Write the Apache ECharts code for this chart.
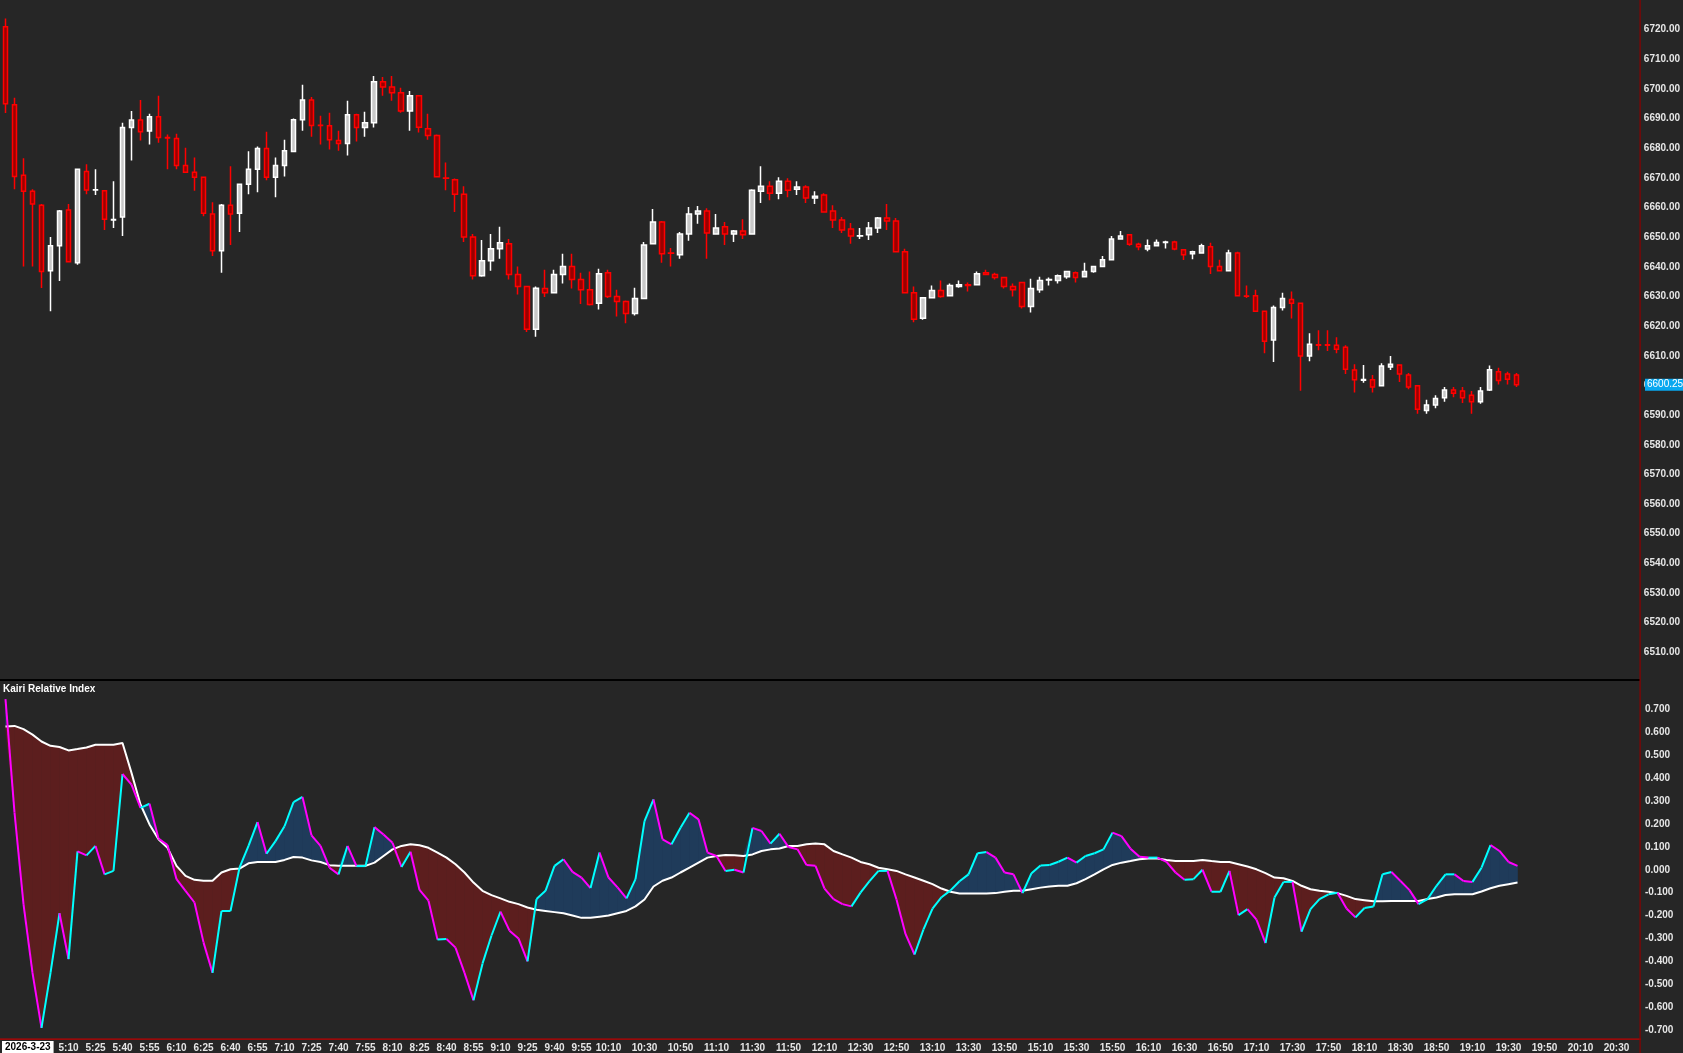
<!DOCTYPE html>
<html>
<head>
<meta charset="utf-8">
<script src="https://cdn.jsdelivr.net/npm/echarts@6/dist/echarts.min.js"></script>
<style>
  html, body { margin: 0; padding: 0; background: #262626; }
  #chart { width: 1683px; height: 1053px; }
</style>
</head>
<body>
<div id="chart"></div>
<script>
// 5-minute bars, [open, high, low, close]
const candles = [
  [6721.0,6723.8,6691.9,6695.0],[6694.7,6697.0,6666.2,6670.5],[6670.9,6676.6,6640.1,6665.5],[6665.5,6666.2,6640.1,6661.2],
  [6660.8,6661.2,6632.9,6638.4],[6638.7,6650.1,6625.0,6647.1],[6647.1,6659.2,6635.2,6658.8],[6659.2,6661.2,6641.7,6641.7],
  [6641.4,6672.9,6640.7,6672.9],[6672.2,6674.6,6664.5,6665.9],[6665.9,6672.9,6664.2,6666.0],[6665.7,6665.7,6652.4,6656.1],
  [6655.8,6668.9,6653.1,6656.0],[6656.8,6688.6,6650.4,6687.0],[6687.0,6692.6,6675.9,6689.5],[6689.5,6696.3,6682.6,6685.6],
  [6685.8,6691.6,6681.3,6690.6],[6690.6,6697.7,6681.9,6683.6],[6683.6,6684.6,6672.9,6683.5],[6683.3,6684.9,6672.9,6674.2],
  [6674.2,6680.2,6671.9,6671.9],[6671.9,6676.9,6665.7,6670.2],[6670.2,6670.2,6657.1,6658.1],[6657.8,6661.8,6643.7,6645.4],
  [6645.4,6661.2,6638.0,6660.8],[6660.8,6673.9,6647.4,6657.8],[6658.1,6667.9,6651.8,6667.9],[6667.9,6679.0,6664.5,6672.9],
  [6672.9,6680.6,6665.2,6679.9],[6679.9,6685.6,6669.2,6670.2],[6670.2,6676.9,6663.5,6674.2],[6674.2,6682.9,6670.5,6679.2],
  [6678.9,6690.0,6678.9,6689.6],[6689.6,6701.4,6685.9,6696.3],[6696.3,6697.3,6683.9,6687.7],[6687.8,6691.0,6681.3,6687.7],
  [6687.6,6692.0,6679.6,6682.9],[6682.6,6685.9,6679.2,6681.6],[6681.6,6696.0,6677.6,6691.3],[6691.3,6691.6,6682.3,6687.0],
  [6687.0,6692.3,6683.9,6688.6],[6688.6,6704.4,6687.0,6702.4],[6702.4,6704.0,6697.7,6700.7],[6700.7,6704.4,6696.0,6698.7],
  [6698.7,6700.4,6692.0,6692.6],[6692.6,6699.3,6685.9,6697.7],[6697.7,6698.0,6685.3,6687.1],[6686.6,6691.6,6682.9,6684.3],
  [6684.3,6684.6,6670.2,6670.4],[6670.0,6675.2,6665.8,6669.9],[6669.4,6669.8,6658.5,6664.5],[6664.5,6667.2,6648.4,6650.1],
  [6650.1,6651.1,6635.7,6637.0],[6637.0,6649.1,6636.7,6642.1],[6642.1,6651.1,6638.7,6646.1],[6646.1,6653.5,6642.7,6648.1],
  [6647.8,6649.4,6635.7,6637.4],[6637.4,6640.1,6630.7,6633.4],[6633.4,6633.4,6618.0,6619.0],[6619.0,6633.4,6616.4,6632.8],
  [6632.7,6639.0,6629.8,6631.3],[6631.3,6639.0,6631.3,6637.4],[6637.4,6644.4,6634.4,6640.1],[6640.1,6644.4,6632.7,6635.7],
  [6635.7,6638.0,6627.5,6632.3],[6632.3,6638.4,6627.0,6627.3],[6627.7,6639.4,6625.6,6637.7],[6638.0,6639.0,6629.5,6630.0],
  [6630.0,6632.3,6623.3,6628.3],[6628.3,6628.7,6621.0,6624.3],[6624.3,6633.0,6623.6,6629.3],[6629.3,6648.4,6629.3,6647.4],
  [6647.8,6659.5,6647.8,6655.1],[6655.1,6655.5,6641.4,6644.4],[6644.7,6646.4,6640.1,6644.6],[6644.1,6651.8,6642.7,6651.1],
  [6651.1,6660.2,6648.8,6657.8],[6657.8,6660.5,6654.5,6658.8],[6658.8,6659.8,6642.7,6651.4],[6651.1,6657.8,6651.1,6653.1],
  [6653.5,6655.1,6647.4,6651.1],[6651.1,6652.4,6648.4,6652.1],[6652.1,6656.1,6649.4,6650.8],[6651.1,6666.2,6651.1,6665.8],
  [6665.5,6673.9,6661.5,6667.2],[6667.2,6668.9,6662.5,6664.8],[6664.8,6670.2,6662.8,6668.9],[6668.9,6669.9,6663.5,6665.8],
  [6666.2,6668.9,6664.2,6666.9],[6666.9,6667.5,6661.5,6663.2],[6663.2,6665.5,6661.2,6663.8],[6664.2,6664.8,6658.5,6658.5],
  [6658.8,6660.8,6653.1,6655.8],[6655.8,6656.8,6651.4,6652.4],[6652.8,6654.8,6647.8,6650.4],[6650.4,6653.1,6649.4,6650.5],
  [6650.8,6655.1,6649.1,6653.1],[6653.1,6656.8,6651.4,6656.5],[6656.5,6661.2,6652.4,6655.5],[6655.5,6656.5,6645.1,6645.1],
  [6645.1,6646.1,6631.3,6631.3],[6631.3,6633.4,6621.3,6622.3],[6622.7,6629.6,6622.2,6629.6],[6629.6,6633.7,6629.3,6632.0],
  [6632.0,6635.4,6629.6,6630.0],[6630.3,6634.4,6630.3,6633.7],[6633.4,6635.4,6633.0,6634.0],[6634.0,6634.7,6631.7,6633.7],
  [6634.0,6638.4,6634.0,6637.7],[6638.0,6639.0,6637.4,6637.4],[6637.4,6638.0,6635.7,6636.4],[6636.4,6636.7,6632.7,6633.4],
  [6633.4,6634.4,6630.0,6632.3],[6634.7,6634.7,6626.0,6626.6],[6626.6,6636.0,6624.6,6632.7],[6632.3,6636.7,6631.3,6635.4],
  [6635.6,6636.4,6633.7,6635.7],[6635.4,6637.4,6634.4,6637.0],[6636.7,6638.7,6636.0,6638.4],[6638.0,6638.4,6634.7,6636.4],
  [6636.7,6641.4,6636.7,6638.4],[6638.4,6640.1,6638.0,6640.1],[6640.1,6643.7,6640.1,6642.4],[6642.4,6650.4,6642.4,6649.4],
  [6649.4,6652.1,6649.4,6650.4],[6650.8,6650.8,6647.1,6647.6],[6647.6,6648.1,6645.6,6646.8],[6646.0,6649.2,6645.3,6647.1],
  [6647.1,6649.2,6647.1,6648.2],[6648.2,6648.8,6646.2,6648.4],[6648.4,6648.8,6645.6,6646.0],[6645.8,6645.8,6642.3,6644.1],
  [6644.4,6645.4,6642.6,6645.1],[6644.7,6647.8,6644.7,6647.1],[6646.8,6648.1,6637.6,6640.1],[6640.1,6642.4,6638.4,6638.7],
  [6638.7,6645.8,6638.7,6644.7],[6644.7,6645.1,6630.3,6630.3],[6630.2,6633.7,6629.5,6630.1],[6630.3,6632.3,6625.0,6625.0],
  [6625.0,6625.3,6610.9,6614.9],[6615.3,6627.0,6607.9,6626.3],[6626.3,6631.3,6625.3,6629.3],[6629.0,6631.7,6622.6,6627.7],
  [6627.7,6627.7,6598.2,6609.9],[6609.9,6617.6,6608.2,6613.9],[6613.7,6618.6,6611.9,6613.6],[6613.7,6618.6,6611.6,6613.6],
  [6613.6,6616.3,6610.9,6612.2],[6612.9,6613.6,6603.9,6605.5],[6605.2,6607.2,6597.6,6601.9],[6601.8,6606.9,6600.9,6602.0],
  [6601.9,6603.5,6597.6,6599.5],[6599.9,6607.5,6599.9,6606.6],[6606.2,6609.9,6605.2,6607.2],[6606.9,6606.9,6601.2,6603.9],
  [6603.5,6604.2,6598.7,6599.5],[6599.9,6599.9,6590.5,6592.0],[6591.6,6595.2,6590.5,6593.4],[6593.4,6596.7,6592.3,6595.6],
  [6595.9,6599.5,6594.5,6598.5],[6598.5,6599.5,6596.0,6597.4],[6598.1,6599.5,6594.1,6595.9],[6596.7,6598.1,6590.5,6594.5],
  [6594.5,6599.5,6593.8,6598.1],[6598.5,6606.7,6598.1,6605.3],[6604.6,6606.0,6600.3,6601.7],[6603.9,6604.6,6600.3,6602.1],
  [6603.5,6604.2,6599.5,6600.25]
];

const kairi = [
  0.745,0.25,-0.15,-0.45,-0.69,-0.45,-0.19,-0.39,0.08,0.063,
  0.104,-0.02,-0.005,0.418,0.372,0.27,0.288,0.136,0.108,-0.041,
  -0.092,-0.143,-0.317,-0.45,-0.18,-0.18,0.009,0.104,0.208,0.07,
  0.125,0.19,0.295,0.318,0.15,0.104,0.009,-0.02,0.104,0.016,
  0.016,0.186,0.154,0.118,0.012,0.079,-0.088,-0.135,-0.305,-0.302,
  -0.34,-0.45,-0.57,-0.41,-0.287,-0.183,-0.266,-0.30,-0.40,-0.128,
  -0.092,0.017,0.046,-0.009,-0.034,-0.08,0.075,-0.034,-0.077,-0.125,
  -0.041,0.212,0.307,0.133,0.111,0.183,0.249,0.22,0.075,0.06,
  -0.005,0.0,-0.012,0.183,0.169,0.114,0.157,0.099,0.089,0.021,
  0.017,-0.082,-0.128,-0.15,-0.16,-0.10,-0.05,-0.005,-0.005,-0.13,
  -0.28,-0.37,-0.26,-0.17,-0.12,-0.09,-0.05,-0.02,0.072,0.077,
  0.053,-0.012,-0.02,-0.102,-0.015,0.019,0.021,0.035,0.053,0.031,
  0.06,0.072,0.089,0.162,0.147,0.092,0.057,0.053,0.053,0.034,
  -0.012,-0.044,-0.041,0.0,-0.096,-0.096,-0.005,-0.198,-0.172,-0.218,
  -0.32,-0.121,-0.053,-0.053,-0.27,-0.172,-0.128,-0.107,-0.1,-0.169,
  -0.208,-0.167,-0.16,-0.02,-0.01,-0.049,-0.089,-0.15,-0.128,-0.07,
  -0.02,-0.02,-0.049,-0.053,0.009,0.108,0.082,0.034,0.017
];

const signal = [
  0.625,0.628,0.614,0.59,0.56,0.541,0.536,0.521,0.527,0.534,
  0.546,0.546,0.546,0.553,0.423,0.285,0.198,0.133,0.096,0.017,
  -0.027,-0.044,-0.048,-0.048,-0.012,0.002,0.005,0.028,0.034,0.034,
  0.034,0.043,0.056,0.053,0.041,0.034,0.02,0.017,0.017,0.017,
  0.017,0.031,0.06,0.089,0.104,0.111,0.107,0.096,0.075,0.053,
  0.024,-0.012,-0.056,-0.092,-0.111,-0.125,-0.14,-0.15,-0.165,-0.175,
  -0.18,-0.185,-0.19,-0.20,-0.21,-0.21,-0.205,-0.20,-0.19,-0.18,
  -0.16,-0.13,-0.073,-0.048,-0.034,-0.012,0.009,0.031,0.053,0.06,
  0.064,0.063,0.06,0.067,0.082,0.089,0.093,0.104,0.104,0.111,
  0.115,0.111,0.082,0.067,0.053,0.034,0.024,0.009,0.002,-0.005,
  -0.02,-0.034,-0.048,-0.063,-0.082,-0.096,-0.104,-0.104,-0.104,-0.104,
  -0.102,-0.096,-0.092,-0.092,-0.085,-0.078,-0.073,-0.07,-0.07,-0.059,
  -0.041,-0.02,0.002,0.021,0.031,0.038,0.046,0.049,0.049,0.043,
  0.038,0.038,0.038,0.043,0.038,0.034,0.034,0.024,0.014,0.002,
  -0.015,-0.034,-0.037,-0.049,-0.07,-0.085,-0.092,-0.096,-0.102,-0.114,
  -0.128,-0.133,-0.138,-0.138,-0.136,-0.136,-0.136,-0.136,-0.128,-0.121,
  -0.11,-0.107,-0.107,-0.107,-0.095,-0.081,-0.07,-0.063,-0.056
];

// session: first bar 4:35, 5-minute bars, one-hour break after 13:55
const startMinutes = 4 * 60 + 35;
const slotCount = 182;
const breakIndex = 113;
const times = [];
for (let k = 0; k < slotCount; k++) {
  const m = startMinutes + 5 * k + (k >= breakIndex ? 60 : 0);
  times.push(Math.floor(m / 60) + ':' + String(m % 60).padStart(2, '0'));
}
function showTime(k) {
  if (k >= 7 && k < 67) return (k - 7) % 3 === 0;
  if (k >= 67) return (k - 67) % 4 === 0;
  return false;
}

const BLUE = '#1f3b5a', RED = '#5c1e1e', CYAN = '#00ffff', MAGENTA = '#ff00ff';
const FONT = 'Liberation Sans';
const segs = kairi.slice(0, -1).map((v, i) => [i]);
const lastClose = candles[candles.length - 1][3];

function fillItem(params, api) {
  const i = api.value(0);
  const P = p => api.coord(p);
  const d0 = kairi[i] - signal[i], d1 = kairi[i + 1] - signal[i + 1];
  const col = d => (d >= 0 ? BLUE : RED);
  const poly = (pts, c) => ({ type: 'polygon', shape: { points: pts }, style: { fill: c, stroke: c, lineWidth: 0.6 } });
  if (d0 * d1 >= 0) {
    return poly([P([i, kairi[i]]), P([i + 1, kairi[i + 1]]), P([i + 1, signal[i + 1]]), P([i, signal[i]])], col(d0 + d1));
  }
  const t = d0 / (d0 - d1);
  const c = P([i + t, kairi[i] + t * (kairi[i + 1] - kairi[i])]);
  return {
    type: 'group',
    children: [
      poly([P([i, kairi[i]]), c, P([i, signal[i]])], col(d0)),
      poly([c, P([i + 1, kairi[i + 1]]), P([i + 1, signal[i + 1]])], col(d1))
    ]
  };
}

function lineItem(params, api) {
  const i = api.value(0);
  const a = api.coord([i, kairi[i]]), b = api.coord([i + 1, kairi[i + 1]]);
  return {
    type: 'line',
    shape: { x1: a[0], y1: a[1], x2: b[0], y2: b[1] },
    style: { stroke: kairi[i + 1] >= kairi[i] ? CYAN : MAGENTA, lineWidth: 2 }
  };
}

const chart = echarts.init(document.getElementById('chart'));
const axisText = { color: '#e6e6e6', fontSize: 10, fontWeight: 'bold', fontFamily: FONT };

chart.setOption({
  backgroundColor: '#262626',
  animation: false,
  grid: [
    { left: 1, width: 1638, top: -8, height: 690 },
    { left: 1, width: 1638, top: 663.6, height: 390.8 },
    { left: 1, width: 1638, top: 1039, height: 1 }
  ],
  xAxis: [0, 1, 2].map(g => ({
    type: 'category', gridIndex: g, data: times, boundaryGap: true,
    axisLine: { show: false }, axisTick: { show: false }, splitLine: { show: false },
    axisLabel: g === 2
      ? { ...axisText, margin: 3, interval: (k) => showTime(k) }
      : { show: false }
  })),
  yAxis: [
    {
      type: 'value', gridIndex: 0, position: 'right', min: 6500, max: 6730, interval: 10,
      axisLine: { show: false }, axisTick: { show: false }, splitLine: { show: false },
      axisLabel: { ...axisText, margin: 6, formatter: v => (v <= 6500 || v >= 6730 ? '' : v.toFixed(2)) }
    },
    {
      type: 'value', gridIndex: 1, position: 'right', min: -0.8, max: 0.9, interval: 0.1,
      axisLine: { show: false }, axisTick: { show: false }, splitLine: { show: false },
      axisLabel: { ...axisText, margin: 6, formatter: v => (Math.abs(v) > 0.7001 ? '' : v.toFixed(3)) }
    },
    { type: 'value', gridIndex: 2, show: false }
  ],
  series: [
    {
      type: 'candlestick', xAxisIndex: 0, yAxisIndex: 0, barWidth: 5,
      data: candles.map(c => [c[0], c[3], c[2], c[1]]),
      itemStyle: { color: '#c8c8c8', color0: '#9a0000', borderColor: '#ffffff', borderColor0: '#ff0000', borderWidth: 1.5 }
    },
    { type: 'custom', xAxisIndex: 1, yAxisIndex: 1, data: segs, renderItem: fillItem, z: 2 },
    {
      type: 'line', xAxisIndex: 1, yAxisIndex: 1, data: signal, symbol: 'none', z: 3,
      lineStyle: { color: '#ffffff', width: 2 }
    },
    { type: 'custom', xAxisIndex: 1, yAxisIndex: 1, data: segs, renderItem: lineItem, z: 4 }
  ],
  graphic: [
    { type: 'rect', shape: { x: 0, y: 679, width: 1640, height: 2 }, style: { fill: '#000000' }, z: 10 },
    { type: 'rect', shape: { x: 0, y: 1038.5, width: 1641, height: 1.2 }, style: { fill: '#c00000' }, z: 10 },
    { type: 'rect', shape: { x: 1639.5, y: 0, width: 1.2, height: 1053 }, style: { fill: '#8a0000' }, z: 10 },
    {
      type: 'text', left: 3, top: 684, z: 10,
      style: { text: 'Kairi Relative Index', fill: '#ffffff', font: 'bold 10px ' + FONT }
    },
    {
      type: 'text', left: 2, top: 1041, z: 10,
      style: { text: '2026-3-23', fill: '#000000', backgroundColor: '#ffffff', padding: [1, 3], font: 'bold 10px ' + FONT }
    }
  ]
});

// last price tag on the price scale
const tagY = chart.convertToPixel({ yAxisIndex: 0 }, lastClose);
chart.setOption({
  graphic: [{
    type: 'text', id: 'lastTag', x: 1645, y: tagY - 6, z: 20,
    style: { text: lastClose.toFixed(2), fill: '#ffffff', backgroundColor: '#08a8f0', padding: [1, 2], font: '10px ' + FONT }
  }]
});
</script>
</body>
</html>
